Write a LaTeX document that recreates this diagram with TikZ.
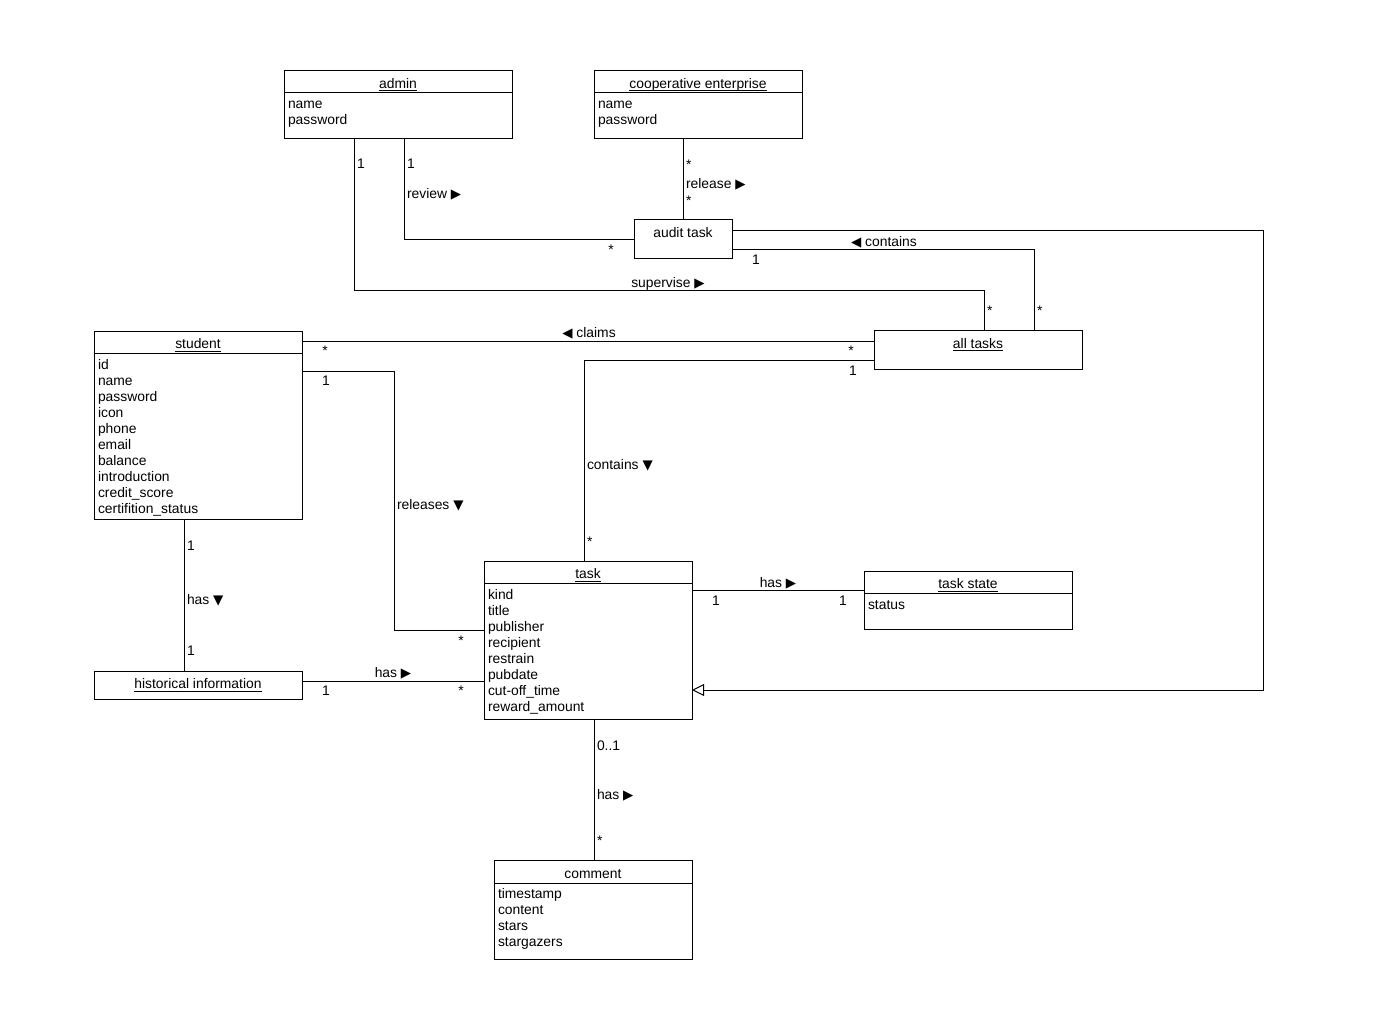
\documentclass[tikz,border=0pt]{standalone}
\usepackage{fontspec}
\setmainfont{Liberation Sans}
\newfontfamily\symf{DejaVu Sans}
\usetikzlibrary{calc,arrows.meta}
\newcommand\tR{{\symf\fontsize{10}{12}\selectfont ▶}}
\newcommand\tL{{\symf\fontsize{10}{12}\selectfont ◀}}
\newcommand\tD{{\symf\fontsize{10}{12}\selectfont ▼}}
\newcommand\attrlist[2]{\foreach \a [count=\i from 0] in {#2} {\node[anchor=base west] (#1-a\i) at ($(#1.north west)+(4,38+16*\i)$) {\a};}}
\newcommand\clstitle[3]{\node[anchor=base] (#1-t) at ($(#1.north)+(0,#2)$) {#3};}
\newcommand\ultitle[3]{\node[anchor=base] (#1-t) at ($(#1.north)+(0,#2)$) {#3};
  \draw[line width=0.75pt] ($(#1-t.base west)+(0,2.5)$) -- ($(#1-t.base east)+(0,2.5)$);}
\newcommand\divider[2]{\draw ($(#1.north west)+(0,#2)$) -- ($(#1.north east)+(0,#2)$);}
\begin{document}
\begin{tikzpicture}[x=0.75pt,y=-0.75pt,line width=0.75pt,
  every node/.style={font=\fontsize{10.4}{12}\selectfont,inner sep=0pt,outer sep=0pt},
  cls/.style 2 args={draw,rectangle,minimum width=#1*0.75pt,minimum height=#2*0.75pt},
  lw/.style={anchor=base west},
  lc/.style={anchor=base},
  gen/.style={-{Triangle[open,length=9pt,width=9pt]}}]
\fill[white] (0,0) rectangle (1384,1009);
\useasboundingbox (0,0) rectangle (1384,1009);

% classes
\node[cls={228}{68}] (admin) at (398,105) {};
\divider{admin}{22}
\ultitle{admin}{17.5}{admin}
\attrlist{admin}{name,password}

\node[cls={208}{68}] (coop) at (698,105) {};
\divider{coop}{22}
\ultitle{coop}{17.5}{cooperative enterprise}
\attrlist{coop}{name,password}

\node[cls={98}{39}] (audit) at (683,239.5) {};
\clstitle{audit}{18}{audit task}

\node[cls={208}{39}] (allt) at (978,349.5) {};
\ultitle{allt}{18}{all tasks}

\node[cls={208}{188}] (student) at (198,425) {};
\divider{student}{22}
\ultitle{student}{17.5}{student}
\attrlist{student}{id,name,password,icon,phone,email,balance,introduction,credit\_score,certifition\_status}

\node[cls={208}{28}] (hist) at (198,685) {};
\ultitle{hist}{17.5}{historical information}

\node[cls={208}{158}] (task) at (588,640) {};
\divider{task}{22}
\ultitle{task}{17.5}{task}
\attrlist{task}{kind,title,publisher,recipient,restrain,pubdate,cut-off\_time,reward\_amount}

\node[cls={208}{58}] (tstate) at (968,600) {};
\divider{tstate}{22}
\ultitle{tstate}{17.5}{task state}
\attrlist{tstate}{status}

\node[cls={198}{99}] (comment) at (593,909.5) {};
\divider{comment}{23}
\clstitle{comment}{18}{comment}
\attrlist{comment}{timestamp,content,stars,stargazers}

% connectors
\draw ($(admin.south west)+(70,0)$) -- ++(0,151) -| ($(allt.north west)+(110,0)$);
\draw ($(admin.south west)+(120,0)$) |- (audit.west);
\draw (coop.south -| audit.north) -- (audit.north);
\draw ($(audit.south east)+(0,-9)$) -| ($(allt.north west)+(160,0)$);
\draw[gen] ($(audit.north east)+(0,11)$) -- ++(531,0) |- ($(task.south east)+(0,-29)$);
\draw ($(student.north east)+(0,10)$) -- ($(allt.north west)+(0,11)$);
\draw ($(allt.south west)+(0,-9)$) -| ($(task.north west)+(100,0)$);
\draw ($(student.north east)+(0,40)$) -- ++(92,0) |- ($(task.north west)+(0,69)$);
\draw ($(student.south west)+(90,0)$) -- ($(hist.north west)+(90,0)$);
\draw ($(hist.north east)+(0,10)$) -- ($(task.north west)+(0,120)$);
\draw ($(task.north east)+(0,29)$) -- ($(tstate.north west)+(0,19)$);
\draw ($(task.south west)+(110,0)$) -- ($(comment.north west)+(100,0)$);

% labels
\node[lw] (l1) at (357,169) {1};
\node[lw] (l2) at (407,169) {1};
\node[lw] (l3) at (407,199) {review \tR};
\node[lw] (l4) at (686,170) {*};
\node[lw] (l5) at (686,189) {release \tR};
\node[lw] (l6) at (686,206) {*};
\node[lw] (l7) at (987,315) {*};
\node[lw] (l8) at (1037,315) {*};
\node[lw] (l9) at (587,469) {contains \tD};
\node[lw] (l10) at (397,509) {releases \tD};
\node[lw] (l11) at (587,546) {*};
\node[lw] (l12) at (187,550) {1};
\node[lw] (l13) at (187,604) {has \tD};
\node[lw] (l14) at (187,655) {1};
\node[lw] (l15) at (597,750) {0..1};
\node[lw] (l16) at (597,799) {has \tR};
\node[lw] (l17) at (597,845) {*};
\node[lc] (c1) at (611,255) {*};
\node[lc] (c2) at (884,247) {\tL{} contains};
\node[lc] (c3) at (756,265) {1};
\node[lc] (c4) at (668,287) {supervise \tR};
\node[lc] (c5) at (589,337) {\tL{} claims};
\node[lc] (c6) at (325,355) {*};
\node[lc] (c7) at (851,355) {*};
\node[lc] (c8) at (326,385) {1};
\node[lc] (c9) at (853,375) {1};
\node[lc] (c10) at (461,645) {*};
\node[lc] (c11) at (393,677) {has \tR};
\node[lc] (c12) at (326,695) {1};
\node[lc] (c13) at (461,695) {*};
\node[lc] (c14) at (778,587) {has \tR};
\node[lc] (c15) at (716,605) {1};
\node[lc] (c16) at (843,605) {1};
\end{tikzpicture}
\end{document}
